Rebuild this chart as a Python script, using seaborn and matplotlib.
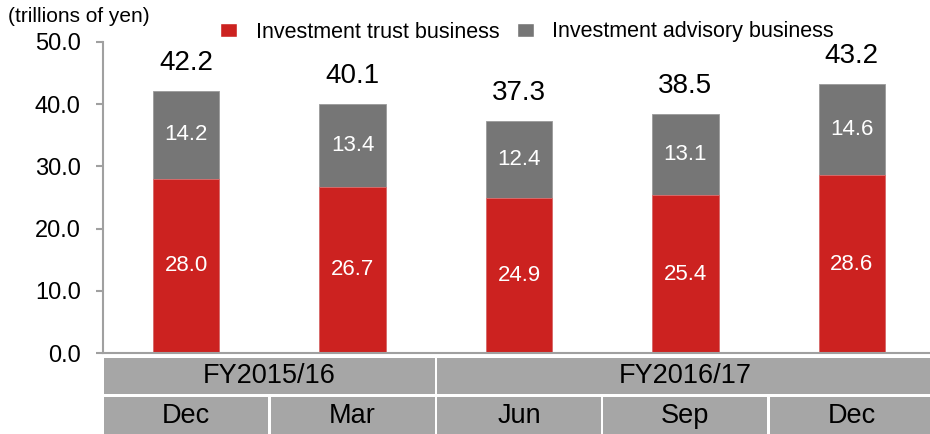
import matplotlib
matplotlib.use("Agg")
import matplotlib.pyplot as plt
from matplotlib.patches import Rectangle, Patch
import seaborn as sns
import pandas as pd

# values (trillions of yen)
months = ["Dec", "Mar", "Jun", "Sep", "Dec"]
fiscal_years = ["FY2015/16", "FY2015/16", "FY2016/17", "FY2016/17", "FY2016/17"]
trust = [28.0, 26.7, 24.9, 25.4, 28.6]
advisory = [14.2, 13.4, 12.4, 13.1, 14.6]

df = pd.DataFrame({"pos": range(len(months)), "month": months, "fy": fiscal_years,
                   "trust": trust, "advisory": advisory})
df["total"] = df["trust"] + df["advisory"]

red = "#CC2220"
grey = "#767676"
cell = "#A6A6A6"
axis_col = "#A0A0A0"

sns.set_style("white")
plt.rcParams["font.family"] = ["Liberation Sans", "DejaVu Sans"]
plt.rcParams["text.color"] = "black"
plt.rcParams["ytick.labelcolor"] = "black"

fig = plt.figure(figsize=(9.3, 4.34), dpi=100)
W, H = 930, 434
ax = fig.add_axes([103 / W, (H - 353) / H, (W - 103) / W, 311 / H])

order = list(range(len(months)))
sns.barplot(data=df, x="pos", y="total", order=order, color=grey, width=0.4,
            edgecolor="#9a9a9a", linewidth=0.6, saturation=1, ax=ax)
sns.barplot(data=df, x="pos", y="trust", order=order, color=red, width=0.4,
            edgecolor="#e07070", linewidth=0.6, saturation=1, ax=ax)

ax.set_xlim(-0.5, 4.47)
ax.set_ylim(0, 50)
ax.set_yticks(range(0, 51, 10))
ax.set_yticklabels([f"{v:.1f}" for v in range(0, 51, 10)], fontsize=17)
ax.set_xticks([])
ax.set_xlabel("")
ax.set_ylabel("")
for side in ["top", "right"]:
    ax.spines[side].set_visible(False)
for side in ["left", "bottom"]:
    ax.spines[side].set_color(axis_col)
    ax.spines[side].set_linewidth(1.5)
ax.tick_params(axis="y", length=5, width=1.5, color=axis_col, pad=11, left=True)

for i, row in df.iterrows():
    ax.text(i, row["trust"] / 2, f"{row['trust']:.1f}", ha="center", va="center",
            color="white", fontsize=16)
    ax.text(i, row["trust"] + row["advisory"] / 2, f"{row['advisory']:.1f}",
            ha="center", va="center", color="white", fontsize=16)
    ax.text(i, row["total"] + 2.4, f"{row['total']:.1f}", ha="center", va="bottom",
            color="black", fontsize=20)

fig.text(8 / W, 1 - 17 / H, "(trillions of yen)", fontsize=15, va="center", ha="left")

handles = [Patch(facecolor=red, label="Investment trust business"),
           Patch(facecolor=grey, label="Investment advisory business")]
fig.legend(handles=handles, loc="center", bbox_to_anchor=(527 / W, 1 - 32 / H), ncol=2,
           frameon=False, fontsize=15.5, handlelength=0.8, handleheight=0.6,
           handletextpad=0.85, columnspacing=0.8)

# category table below the axis
tab = fig.add_axes([103 / W, 0, (W - 103) / W, (H - 356) / H], sharex=ax)
tab.set_ylim(H, 356)
tab.axis("off")
gap = 2.5 / 166.5
groups = df.groupby("fy", sort=False)["pos"].agg(["min", "max"])
for name, g in groups.iterrows():
    x0 = g["min"] - 0.5 + gap / 2
    x1 = g["max"] + 0.5 - gap / 2
    tab.add_patch(Rectangle((x0, 358), x1 - x0, 36, facecolor=cell, edgecolor="none"))
    tab.text((g["min"] + g["max"]) / 2, 376, name, ha="center", va="center", fontsize=19.5)
for i, m in enumerate(months):
    x0 = i - 0.5 + gap / 2
    tab.add_patch(Rectangle((x0, 397), 1 - gap, 40, facecolor=cell, edgecolor="none"))
    tab.text(i, 416, m, ha="center", va="center", fontsize=19.5)
tab.set_xlim(-0.5, 4.47)

fig.savefig("out.png", dpi=100)
